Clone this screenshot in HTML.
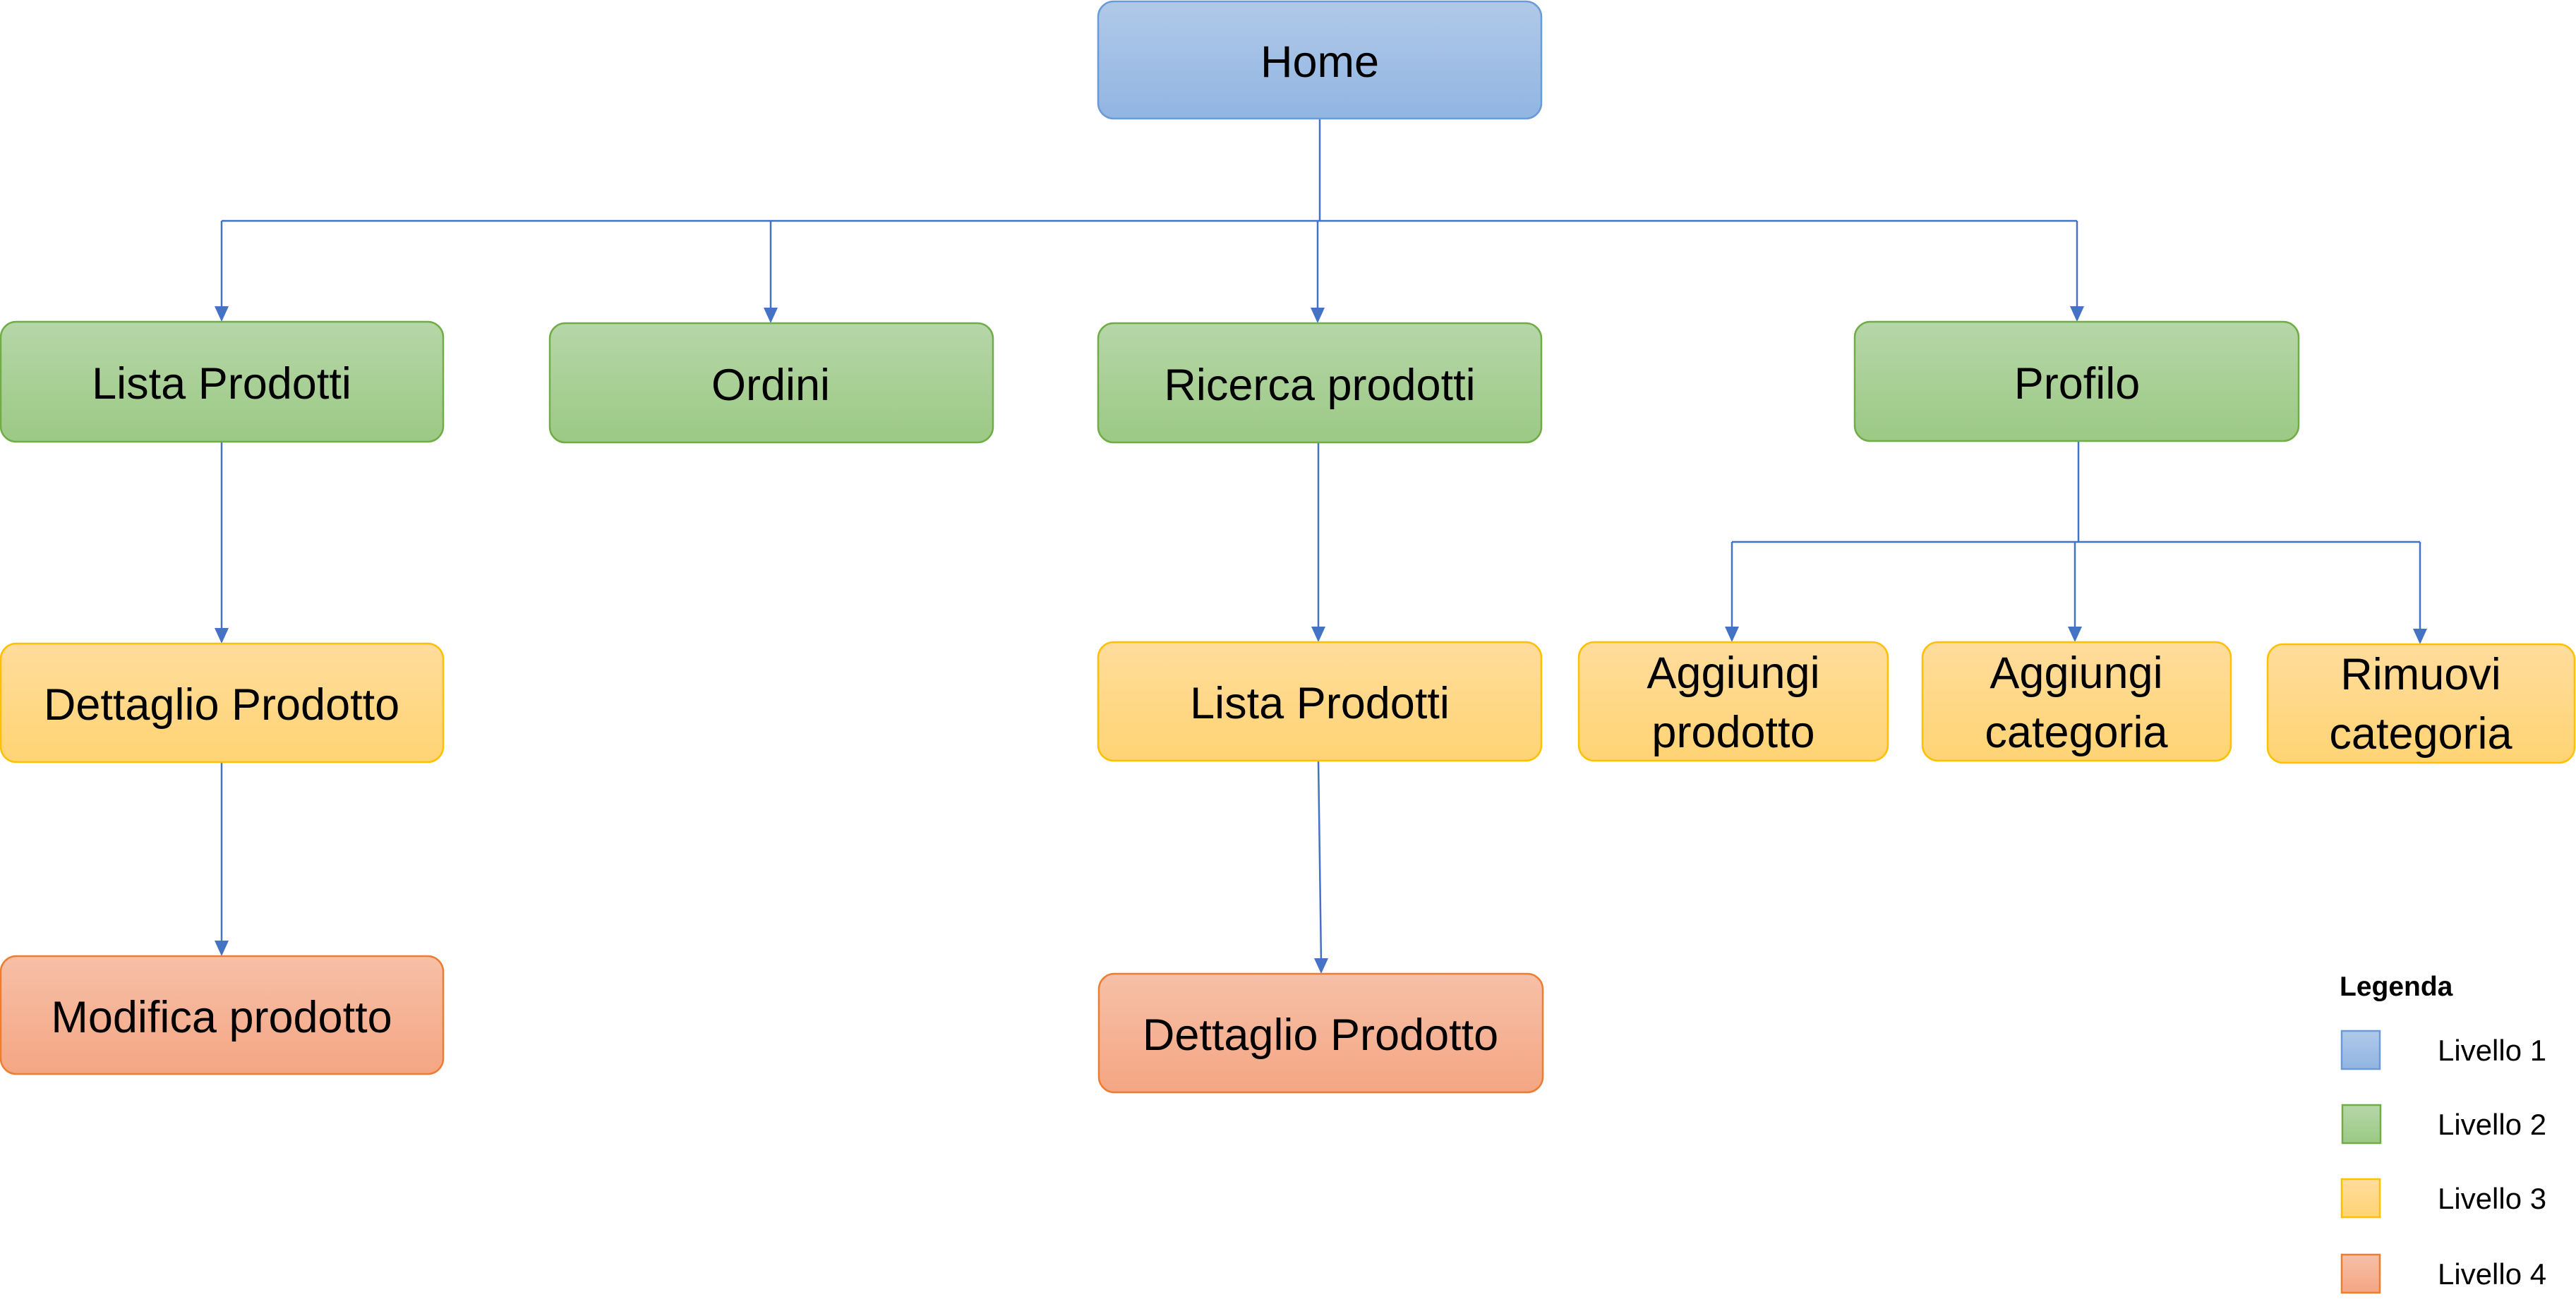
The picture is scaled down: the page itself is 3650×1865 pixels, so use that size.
<!DOCTYPE html>
<html><head><meta charset="utf-8"><style>html,body{margin:0;padding:0;background:#fff}svg{display:block}</style></head>
<body>
<svg width="3650" height="1865" viewBox="0 0 3650 1865" xmlns="http://www.w3.org/2000/svg" font-family="'Liberation Sans', sans-serif">
<defs>
<linearGradient id="gb" x1="0" y1="0" x2="0" y2="1"><stop offset="0" stop-color="#b1c9e8"/><stop offset="1" stop-color="#91b5e2"/></linearGradient>
<linearGradient id="gg" x1="0" y1="0" x2="0" y2="1"><stop offset="0" stop-color="#b6d6a8"/><stop offset="1" stop-color="#9cc985"/></linearGradient>
<linearGradient id="gy" x1="0" y1="0" x2="0" y2="1"><stop offset="0" stop-color="#ffdc9c"/><stop offset="1" stop-color="#ffd474"/></linearGradient>
<linearGradient id="go" x1="0" y1="0" x2="0" y2="1"><stop offset="0" stop-color="#f6c0a8"/><stop offset="1" stop-color="#f4a683"/></linearGradient>
</defs>
<g stroke="#4472c4" stroke-width="2.5" fill="none">
<path d="M1870,168 V313"/>
<path d="M314,313 H2943"/>
<path d="M314,313 V440"/>
<path d="M1092,313 V442"/>
<path d="M1867,313 V444"/>
<path d="M2943,313 V442"/>
<path d="M314,626 V896"/>
<path d="M314,1080 V1339"/>
<path d="M1868,626 V894"/>
<path d="M1868,1078 L1872,1364"/>
<path d="M2945,626 V768"/>
<path d="M2454,768 H3429"/>
<path d="M2454,768 V894"/>
<path d="M2940,768 V895"/>
<path d="M3429,768 V897"/>
</g>
<g fill="#4472c4">
<polygon points="304,434 324,434 314,456"/>
<polygon points="1082,436 1102,436 1092,458"/>
<polygon points="1857,436 1877,436 1867,458"/>
<polygon points="2933,434 2953,434 2943,456"/>
<polygon points="304,890 324,890 314,912"/>
<polygon points="304,1333 324,1333 314,1355"/>
<polygon points="1858,888 1878,888 1868,910"/>
<polygon points="1862,1358 1882,1358 1872,1380"/>
<polygon points="2444,888 2464,888 2454,910"/>
<polygon points="2930,888 2950,888 2940,910"/>
<polygon points="3419,891 3439,891 3429,913"/>
</g>
<g stroke-width="2.5">
<rect x="1556" y="2" width="628" height="166" rx="22" fill="url(#gb)" stroke="#6a9bd8"/>
<rect x="1" y="456" width="627" height="170" rx="22" fill="url(#gg)" stroke="#70ad47"/>
<rect x="779" y="458" width="628" height="169" rx="22" fill="url(#gg)" stroke="#70ad47"/>
<rect x="1556" y="458" width="628" height="169" rx="22" fill="url(#gg)" stroke="#70ad47"/>
<rect x="2628" y="456" width="629" height="169" rx="22" fill="url(#gg)" stroke="#70ad47"/>
<rect x="1" y="912" width="627" height="168" rx="22" fill="url(#gy)" stroke="#ffc000"/>
<rect x="1556" y="910" width="628" height="168" rx="22" fill="url(#gy)" stroke="#ffc000"/>
<rect x="2237" y="910" width="438" height="168" rx="22" fill="url(#gy)" stroke="#ffc000"/>
<rect x="2724" y="910" width="437" height="168" rx="22" fill="url(#gy)" stroke="#ffc000"/>
<rect x="3213" y="913" width="435" height="168" rx="22" fill="url(#gy)" stroke="#ffc000"/>
<rect x="1" y="1355" width="627" height="167" rx="22" fill="url(#go)" stroke="#ed7d31"/>
<rect x="1557" y="1380" width="629" height="168" rx="22" fill="url(#go)" stroke="#ed7d31"/>
</g>
<g font-size="63" text-anchor="middle" fill="#000">
<text x="1870" y="109">Home</text>
<text x="314" y="565">Lista Prodotti</text>
<text x="1092" y="567">Ordini</text>
<text x="1870" y="567">Ricerca prodotti</text>
<text x="2943" y="565">Profilo</text>
<text x="314" y="1020">Dettaglio Prodotto</text>
<text x="1870" y="1018">Lista Prodotti</text>
<text x="2456" y="975">Aggiungi</text><text x="2456" y="1059">prodotto</text>
<text x="2942" y="975">Aggiungi</text><text x="2942" y="1059">categoria</text>
<text x="3430" y="977">Rimuovi</text><text x="3430" y="1061">categoria</text>
<text x="314" y="1463">Modifica prodotto</text>
<text x="1871" y="1488">Dettaglio Prodotto</text>
</g>
<text x="3315" y="1411" font-size="39" font-weight="bold">Legenda</text>
<g stroke-width="2.5">
<rect x="3318" y="1461" width="54" height="54" fill="url(#gb)" stroke="#6a9bd8"/>
<rect x="3319" y="1566" width="54" height="54" fill="url(#gg)" stroke="#70ad47"/>
<rect x="3318" y="1671" width="54" height="54" fill="url(#gy)" stroke="#ffc000"/>
<rect x="3318" y="1778" width="54" height="54" fill="url(#go)" stroke="#ed7d31"/>
</g>
<g font-size="42" fill="#000">
<text x="3454" y="1503">Livello 1</text>
<text x="3454" y="1608">Livello 2</text>
<text x="3454" y="1713">Livello 3</text>
<text x="3454" y="1820">Livello 4</text>
</g>
</svg>
</body></html>
